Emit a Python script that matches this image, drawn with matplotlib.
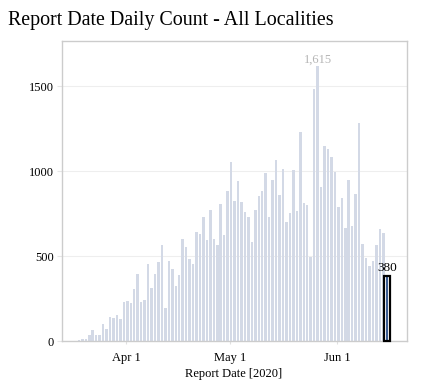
import matplotlib
matplotlib.use("Agg")
import matplotlib.pyplot as plt
import matplotlib.dates as mdates
from matplotlib.patches import Rectangle
import numpy as np
import datetime as dt

start_date = "2020-03-18"
counts = [8, 14, 14, 33, 63, 33, 33, 98, 69, 141,
          133, 151, 127, 227, 233, 222, 306, 392, 227, 239,
          451, 312, 392, 463, 563, 194, 471, 422, 325, 386,
          598, 555, 480, 451, 639, 631, 727, 592, 769, 602,
          563, 804, 622, 880, 1051, 825, 939, 816, 761, 727,
          580, 769, 851, 880, 986, 727, 945, 1065, 857, 1010,
          702, 751, 1006, 765, 1227, 810, 798, 496, 1480, 1615,
          904, 1149, 1129, 1080, 996, 786, 839, 663, 947, 676,
          863, 1280, 569, 486, 441, 471, 565, 657, 633, 380]
tick_dates = ["2020-04-01", "2020-05-01", "2020-06-01"]
tick_labels = ["Apr 1", "May 1", "Jun 1"]
y_ticks = [0, 500, 1000, 1500]
y_tick_labels = ["0", "500", "1000", "1500"]
title = "Report Date Daily Count - All Localities"
xlabel = "Report Date [2020]"
peak_label = "1,615"
last_label = "380"

plt.rcParams['font.family'] = ['Liberation Serif', 'DejaVu Serif']

d0 = dt.datetime.strptime(start_date, "%Y-%m-%d")
dates = [d0 + dt.timedelta(days=i) for i in range(len(counts))]
x = mdates.date2num(dates) + 0.3

fig = plt.figure(figsize=(4.22, 3.92), dpi=100)
ax = fig.add_axes([61.5/422, 1 - 341/392, (406.5-61.5)/422, (341-41)/392])

ax.bar(x[:-1], counts[:-1], width=0.72, color='#d3d9e6', zorder=2)
ax.bar(x[-1], counts[-1], width=0.72, color='#3a5b92', zorder=3)
ax.add_patch(Rectangle((x[-1] - 0.9, 0), 1.8, counts[-1] + 4, fill=False,
                       edgecolor='black', linewidth=1.6, zorder=4, clip_on=False))

apr1 = mdates.date2num(dt.datetime(2020, 4, 1))
jun1 = mdates.date2num(dt.datetime(2020, 6, 1))
ax.set_xlim(apr1 - 18.73, jun1 + 20.0)
ax.set_ylim(0, 1765)

tick_nums = [mdates.date2num(dt.datetime.strptime(t, "%Y-%m-%d")) for t in tick_dates]
ax.set_xticks(tick_nums)
ax.set_xticklabels(tick_labels, fontsize=9)
ax.set_yticks(y_ticks)
ax.set_yticklabels(y_tick_labels, fontsize=9)
ax.tick_params(axis='x', length=2.5, color='#e0e0e0', pad=5.5)
ax.tick_params(axis='y', length=3.6, color='#e6e6e6', pad=1.8)

ax.grid(axis='y', color='#eeeeee', linewidth=0.8, zorder=0)
ax.set_axisbelow(True)
for s in ax.spines.values():
    s.set_color('#cccccc')
    s.set_linewidth(1.0)

imax = int(np.argmax(counts))
ax.annotate(peak_label, (x[imax], counts[imax]), xytext=(0, 0.5),
            textcoords='offset points', ha='center', va='bottom',
            fontsize=9, color='#b5b5b5')
ax.annotate(last_label, (x[-1], counts[-1]), xytext=(0, 1.5),
            textcoords='offset points', ha='center', va='bottom',
            fontsize=9.5, color='black')

ax.set_xlabel(xlabel, fontsize=9, labelpad=3)
fig.text(8/422, 1 - 20/392, title, fontsize=14.4, va='center', ha='left')

fig.savefig("out.png", dpi=100)
